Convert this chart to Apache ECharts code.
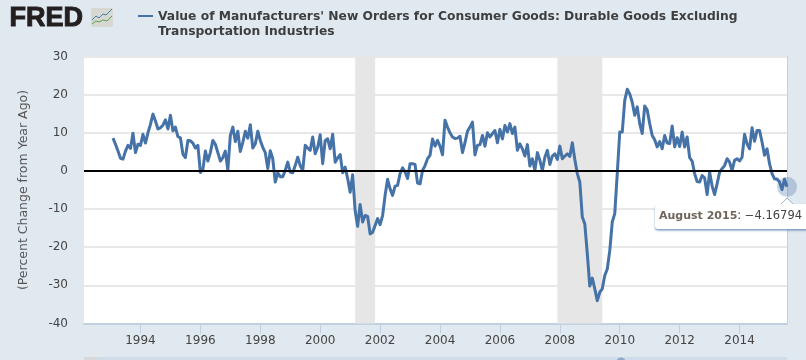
<!DOCTYPE html>
<html><head><meta charset="utf-8">
<style>html,body{margin:0;padding:0;background:#e1e9f0}#c{width:806px;height:360px}</style>
<script src="https://cdn.jsdelivr.net/npm/echarts@6/dist/echarts.min.js"></script>
</head><body><div id="c"></div>
<script>
const titleLines = ["Value of Manufacturers' New Orders for Consumer Goods: Durable Goods Excluding", "Transportation Industries"];
const yAxisTitle = "(Percent Change from Year Ago)";
const firstMonth = [1993, 1];
const yearTicks = [1994,1996,1998,2000,2002,2004,2006,2008,2010,2012,2014];
const recessions = [[[2001,2],[2001,10]],[[2007,11],[2009,5]]];
const pctChange = [
8.6,7,5.2,3.3,3.1,5.2,6.7,5.9,9.9,4.8,
7,6.7,9.6,7.3,10,12.2,14.9,13.1,11,11.3,
12,13.4,11,14.6,10.5,11.5,9,8.7,4.4,3.5,
8,7.9,7.3,6,6.7,-0.4,0.4,5.2,2.6,4.8,
8,7,4.8,2.6,3.5,5.2,0.2,9.3,11.5,7.7,
10.4,5.1,7.5,10.4,8.6,12.1,6,7.1,10.4,8,
6.2,4.8,0.6,5.3,3.2,-2.9,-0.5,-1.5,-1.5,0.1,
2.3,-0.3,-0.5,1.4,3.6,1.4,0.1,6.7,6,5.4,
8.9,4.5,6.2,9.5,1.9,8,8.4,5.8,9.6,2.3,
3.4,4.3,-0.5,1,-2,-5.6,-1,-10.4,-14.5,-8.8,
-13.4,-11.7,-11.9,-16.5,-16.1,-14.3,-12.5,-14.1,-11.7,-6.4,
-2.2,-4.7,-6.4,-4,-3.8,-0.7,0.8,-0.3,-2,1.9,
1.9,1.7,-3.2,-3.4,0.1,1.4,3.2,4.1,8.4,6.5,
8,6.5,4.2,13.3,11.5,10,8.9,8.5,8.6,9.1,
4.8,7.4,10.4,11.5,12.8,4.2,6.7,6.9,9.3,6.5,
10,8.9,9.8,10.6,7.4,10.9,8.4,11.9,10.2,12.4,
9.8,11.5,5.4,7.1,5.8,3.9,6.9,1.3,3.2,0.1,
4.8,2.8,0.1,3.6,5.4,1.7,3.9,4.5,3,6.5,
3.2,3.9,4.5,3.8,7.4,3,-0.7,-2.9,-12.1,-13.9,
-21.7,-30.2,-28.1,-30.9,-34,-31.8,-30.9,-27.4,-25.7,-20.9,
-13.4,-11.2,-0.7,10.2,10.2,18.5,21.4,20.2,18,14.6,
16.8,12.4,9.8,17,16,12.4,9.3,8.2,6.3,7.7,
5.8,9.3,7.3,7.2,11.8,6.3,8.7,6.4,10.2,6.3,
8.9,3.5,2.6,-0.7,-2.8,-2.9,-1.2,-1.8,-6.2,-0.3,
-3.9,-6.2,-3.4,-0.3,0.6,1.4,3.2,2.3,0.1,2.8,
3.2,2.6,3.6,9.6,7.1,5.8,11.3,7.8,10.6,10.6,
7.6,4.1,5.8,1.9,-0.7,-2.1,-2.1,-2.9,-4.9,-2.2,
-4.16794
];
const tooltipDate = "August 2015";
const tooltipValue = ": \u22124.16794";

const yearOf = (y,m)=>y+m/12;
const seriesData = pctChange.map((v,i)=>[yearOf(firstMonth[0], firstMonth[1]+i), v]);
const font = "'DejaVu Sans', Verdana, sans-serif";
const blue = '#4572a7';

const chart = echarts.init(document.getElementById('c'), null, {renderer:'canvas'});
chart.setOption({
  animation:false,
  backgroundColor:'#e1e9f0',
  title:{
    text:titleLines.join('\n'), left:153, top:4,
    textStyle:{fontFamily:font,fontSize:12.3,fontWeight:'bold',color:'#3e3e3e',lineHeight:15}
  },
  grid:{left:84,right:19,top:56.5,bottom:36.5,show:true,backgroundColor:'#fff',borderWidth:0},
  xAxis:{
    type:'value',
    min:1992.115,
    max:seriesData[seriesData.length-1][0],
    axisLine:{onZero:false,lineStyle:{color:'#c0d0e0',width:2}},
    axisTick:{show:true,customValues:yearTicks,length:10,lineStyle:{color:'#c0d0e0',width:1}},
    axisLabel:{customValues:yearTicks,color:'#444',fontFamily:font,fontSize:12,margin:11,
      formatter:v=>String(v)},
    splitLine:{show:false}
  },
  yAxis:{
    type:'value',min:-40,max:30,interval:10,
    name:yAxisTitle,nameLocation:'middle',nameGap:54,
    nameTextStyle:{color:'#555',fontFamily:font,fontSize:12.5},
    axisLine:{show:false},axisTick:{show:false},
    axisLabel:{color:'#444',fontFamily:font,fontSize:12,margin:16,padding:[2,0,0,0]},
    splitLine:{lineStyle:{color:'#e8e8e8',width:2}}
  },
  series:[{
    type:'line',data:seriesData,showSymbol:false,symbol:'none',clip:false,
    lineStyle:{color:blue,width:3,join:'round'},
    markArea:{silent:true,itemStyle:{color:'#e6e6e6'},
      data:recessions.map(r=>[{xAxis:yearOf(r[0][0],r[0][1])},{xAxis:yearOf(r[1][0],r[1][1])}])},
    markLine:{silent:true,symbol:'none',label:{show:false},lineStyle:{color:'#000',width:2,type:'solid'},data:[{yAxis:0}]},
    markPoint:{silent:true,symbol:'circle',symbolSize:20,label:{show:false},
      itemStyle:{color:'rgba(69,114,167,0.3)'},
      data:[{coord:seriesData[seriesData.length-1]}]}
  }],
  graphic:[
    {type:'line',shape:{x1:787.5,y1:56,x2:787.5,y2:323},style:{stroke:'#cfcfcf',lineWidth:1},z:3},
    {type:'text',left:9,top:5,style:{text:'FRED',fontFamily:"'Liberation Sans',Arial,sans-serif",fontWeight:'bold',fontSize:27,fill:'#231f20',stroke:'#231f20',lineWidth:1}},
    {type:'rect',shape:{x:91,y:8,width:22,height:19,r:2},style:{fill:'#d8d8d2'}},
    {type:'polyline',shape:{points:[[92,20],[96,16],[99,18],[103,14],[106,15],[112,9]]},style:{stroke:'#3f7fa8',fill:null,lineWidth:1}},
    {type:'polyline',shape:{points:[[92,24],[96,21],[99,22],[103,20],[107,21],[112,16]]},style:{stroke:'#5f9e4a',fill:null,lineWidth:1}},
    {type:'line',shape:{x1:138,y1:16,x2:153,y2:16},style:{stroke:blue,lineWidth:2}},
    {type:'rect',z:20,shape:{x:655,y:204,width:156,height:25,r:3},style:{fill:'#fff',shadowColor:'rgba(69,114,167,0.7)',shadowBlur:2,shadowOffsetX:0,shadowOffsetY:1.5}},
    {type:'polyline',z:21,shape:{points:[[781,204],[787,198],[793,204]]},style:{fill:'#fff',stroke:'#9db4d2',lineWidth:1}},
    {type:'text',z:22,left:659,top:210,style:{
      rich:{a:{fontFamily:font,fontSize:11,fontWeight:'bold',fill:'#70655a'},b:{fontFamily:font,fontSize:11.5,fill:'#444'}},
      text:'{a|'+tooltipDate+'}{b|'+tooltipValue+'}'}},
    {type:'rect',shape:{x:84,y:357,width:14,height:3},style:{fill:'#d8d8d8'}},
    {type:'rect',shape:{x:98,y:357,width:689,height:3},style:{fill:'#cfdcea'}},
    {type:'circle',shape:{cx:621,cy:362,r:4.5},style:{fill:'#8fa8c8'}}
  ]
});
</script></body></html>
